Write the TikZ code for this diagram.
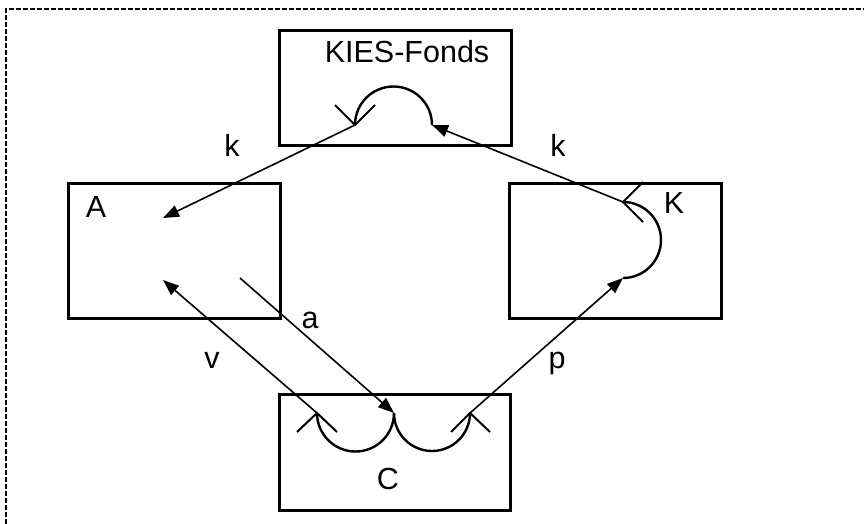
\documentclass[tikz,border=0pt]{standalone}
\usepackage{fontspec}
\setmainfont{Liberation Sans}
\usetikzlibrary{arrows.meta}
\begin{document}
\begin{tikzpicture}[x=1pt,y=-1pt,
  box/.style={draw, line width=2.6pt, inner sep=0pt, anchor=north west},
  lbl/.style={anchor=base, inner sep=0pt, font=\fontsize{30.5}{34}\selectfont},
  flow/.style={line width=1.6pt, -{Triangle[length=16pt,width=12pt]}},
  loop/.style={line width=2.4pt},
  tick/.style={line width=2pt},
  frame/.style={line width=1.8pt, dash pattern=on 5pt off 2pt}]
\useasboundingbox (0,0) rectangle (864,524);
% dashed frame
\coordinate (fl) at (6,524);
\coordinate (fc) at (6,9);
\coordinate (fr) at (866,9);
\draw[frame] (fl) -- (fc) -- (fr);
% boxes
\node[box, minimum width=232pt, minimum height=115pt] (kies) at (278,29) {};
\node[box, minimum width=212pt, minimum height=135pt] (A) at (67,182) {};
\node[box, minimum width=212pt, minimum height=135pt] (K) at (508,182) {};
\node[box, minimum width=231pt, minimum height=116pt] (C) at (278,393) {};
% box texts
\node[lbl] (tkies) at (407,63) {KIES-Fonds};
\node[lbl] (tA) at (96,217) {A};
\node[lbl] (tK) at (674,213) {K};
\node[lbl] (tC) at (388,489) {C};
% connector labels
\node[lbl] (lk1) at (232,157) {k};
\node[lbl] (lk2) at (558,157) {k};
\node[lbl] (la) at (310,328) {a};
\node[lbl] (lv) at (212,368) {v};
\node[lbl] (lp) at (557,368) {p};
% ports
\coordinate (kl) at (355,125);
\coordinate (kr) at (432,125);
\coordinate (ktop) at (623,202);
\coordinate (kbot) at (623,278);
\coordinate (cl) at (317,413);
\coordinate (cm) at (394,413);
\coordinate (cr) at (470,413);
\coordinate (ain1) at (163,218);
\coordinate (ain2) at (163,280);
\coordinate (aout) at (240,278);
% loops
\draw[loop] (kl) arc[start angle=180, end angle=360, radius=38.5];
\draw[loop] (ktop) arc[start angle=-90, end angle=90, radius=38];
\draw[loop] (cl) arc[start angle=180, end angle=0, radius=38.5];
\draw[loop] (cm) arc[start angle=180, end angle=0, radius=38];
% ticks
\draw[tick] ([shift={(-20,-20)}]kl) -- (kl) -- ([shift={(20,-20)}]kl);
\draw[tick] ([shift={(20,-20)}]ktop) -- (ktop) -- ([shift={(20,20)}]ktop);
\draw[tick] ([shift={(-20,19)}]cl) -- (cl) -- ([shift={(20,19)}]cl);
\draw[tick] ([shift={(-19,19)}]cr) -- (cr) -- ([shift={(20,19)}]cr);
% flows
\draw[flow] (kl) -- (ain1);
\draw[flow] (ktop) -- (kr);
\draw[flow] (cl) -- (ain2);
\draw[flow] (aout) -- (cm);
\draw[flow] (cr) -- (kbot);
\end{tikzpicture}
\end{document}
